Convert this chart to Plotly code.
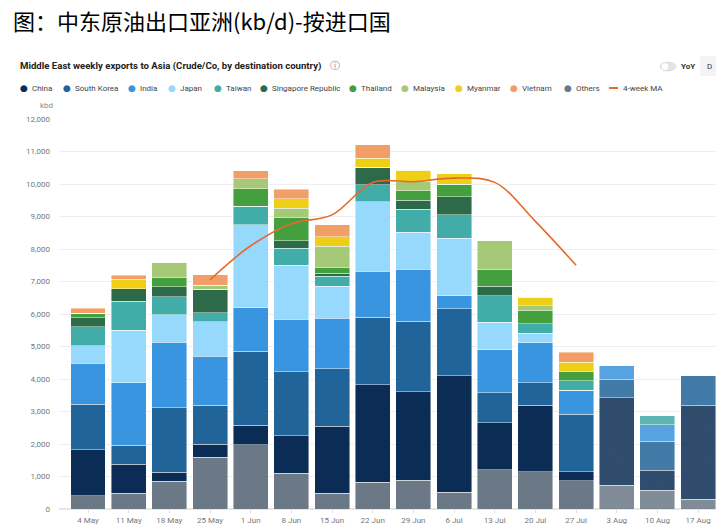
import plotly.graph_objects as go

# week labels (x axis)
weeks = ['4 May', '11 May', '18 May', '25 May', '1 Jun', '8 Jun', '15 Jun', '22 Jun',
         '29 Jun', '6 Jul', '13 Jul', '20 Jul', '27 Jul', '3 Aug', '10 Aug', '17 Aug']

# kbd by destination (stacked bottom -> top)
others    = [410, 490, 850, 1600, 1980, 1100, 490, 820, 890, 520, 1210, 1150, 870, 730, 580, 300]
china     = [1420, 880, 280, 400, 590, 1150, 2050, 3000, 2720, 3580, 1440, 2040, 280, 2700, 610, 2900]
s_korea   = [1400, 590, 1980, 1190, 2290, 1980, 1780, 2080, 2160, 2060, 930, 690, 1760, 570, 890, 900]
india     = [1260, 1920, 2020, 1510, 1340, 1610, 1550, 1420, 1610, 400, 1320, 1230, 750, 420, 510, 0]
japan     = [530, 1620, 850, 1060, 2540, 1660, 980, 2140, 1140, 1770, 840, 300, 0, 0, 0, 0]
taiwan    = [590, 890, 550, 280, 580, 520, 310, 510, 700, 730, 820, 290, 280, 0, 290, 0]
singapore = [280, 390, 310, 720, 0, 230, 100, 540, 280, 550, 290, 0, 0, 0, 0, 0]
thailand  = [130, 0, 280, 0, 540, 720, 180, 0, 290, 390, 510, 400, 290, 0, 0, 0]
malaysia  = [0, 0, 470, 130, 300, 280, 640, 0, 290, 0, 900, 160, 0, 0, 0, 0]
myanmar   = [0, 290, 0, 0, 0, 300, 300, 290, 350, 310, 0, 250, 280, 0, 0, 0]
vietnam   = [160, 130, 0, 320, 250, 290, 370, 410, 0, 0, 0, 0, 310, 0, 0, 0]

# 4-week moving average line
ma_weeks  = ['25 May', '1 Jun', '8 Jun', '15 Jun', '22 Jun', '29 Jun', '6 Jul', '13 Jul', '20 Jul', '27 Jul']
ma_values = [7050, 8100, 8780, 9050, 10050, 10070, 10180, 10050, 8850, 7500]

y_ticks = [0, 1000, 2000, 3000, 4000, 5000, 6000, 7000, 8000, 9000, 10000, 11000, 12000]
partial_weeks = 3   # last weeks drawn faded/hatched

series = [
    ('Others', others, '#6b7987'),
    ('China', china, '#0b2d55'),
    ('South Korea', s_korea, '#21649a'),
    ('India', india, '#3a95e0'),
    ('Japan', japan, '#97d9fc'),
    ('Taiwan', taiwan, '#42aca8'),
    ('Singapore Republic', singapore, '#2d6a4a'),
    ('Thailand', thailand, '#44a03f'),
    ('Malaysia', malaysia, '#a5c977'),
    ('Myanmar', myanmar, '#eecf16'),
    ('Vietnam', vietnam, '#f29f67'),
]
ma_color = '#e8692c'

W, H = 716, 529
PL, PR, PT, PB = 59, 716, 119, 509.3   # plot area in pixels

def px(x):
    return (x - PL) / (PR - PL)

def py(y):
    return (PB - y) / (PB - PT)

n = len(weeks)
opac = [1.0] * (n - partial_weeks) + [0.85] * partial_weeks
shapes_pat = [''] * (n - partial_weeks) + ['x'] * partial_weeks

fig = go.Figure()
for name, vals, col in series:
    fig.add_trace(go.Bar(
        x=weeks, y=vals, name=name,
        marker=dict(color=col, opacity=opac,
                    line=dict(color='rgba(255,255,255,0.55)', width=0.8),
                    pattern=dict(shape=shapes_pat, size=3, solidity=0.12,
                                 fgcolor='rgba(60,60,60,0.5)')),
        showlegend=False,
    ))

fig.add_trace(go.Scatter(x=ma_weeks, y=ma_values, mode='lines', name='4-week MA',
                         line=dict(color=ma_color, width=1.6, shape='spline'),
                         showlegend=False))

annots = []
# chinese header
annots.append(dict(x=px(11), y=py(20), xref='paper', yref='paper', xanchor='left', yanchor='middle',
                   text='图：中东原油出口亚洲(kb/d)-按进口国', showarrow=False,
                   font=dict(family='Noto Sans CJK SC', size=22, color='#000000')))
annots.append(dict(x=px(18), y=py(66), xref='paper', yref='paper', xanchor='left', yanchor='middle',
                   text='<b>Middle East weekly exports to Asia (Crude/Co, by destination country)</b>',
                   showarrow=False, font=dict(family='Roboto', size=9.6, color='#222222')))
annots.append(dict(x=px(335), y=py(65), xref='paper', yref='paper', xanchor='center', yanchor='middle',
                   text='ⓘ', showarrow=False, font=dict(family='DejaVu Sans', size=10, color='#888888')))
annots.append(dict(x=px(679), y=py(66), xref='paper', yref='paper', xanchor='left', yanchor='middle',
                   text='<b>YoY</b>', showarrow=False, font=dict(family='Roboto', size=8, color='#333333')))
annots.append(dict(x=px(709), y=py(66), xref='paper', yref='paper', xanchor='center', yanchor='middle',
                   text='D', showarrow=False, font=dict(family='Roboto', size=8, color='#333333')))
annots.append(dict(x=px(38), y=py(105), xref='paper', yref='paper', xanchor='left', yanchor='middle',
                   text='kbd', showarrow=False, font=dict(family='Roboto', size=8, color='#888888')))

legend_order = ['China', 'South Korea', 'India', 'Japan', 'Taiwan', 'Singapore Republic',
                'Thailand', 'Malaysia', 'Myanmar', 'Vietnam', 'Others']
legend_x = [24, 67, 132, 172, 218, 264, 353, 405, 459, 514, 568]
colors = {s[0]: s[2] for s in series}
for lab, lx in zip(legend_order, legend_x):
    annots.append(dict(x=px(lx), y=py(88), xref='paper', yref='paper', xanchor='center', yanchor='middle',
                       text='●', showarrow=False, font=dict(family='DejaVu Sans', size=9, color=colors[lab])))
    annots.append(dict(x=px(lx + 6), y=py(88), xref='paper', yref='paper', xanchor='left', yanchor='middle',
                       text=lab, showarrow=False, font=dict(family='Roboto', size=8, color='#444444')))
annots.append(dict(x=px(621), y=py(88), xref='paper', yref='paper', xanchor='left', yanchor='middle',
                   text='4-week MA', showarrow=False, font=dict(family='Roboto', size=8, color='#444444')))

shapes = [
    dict(type='line', xref='paper', yref='paper', x0=px(609), x1=px(618), y0=py(88), y1=py(88),
         line=dict(color=ma_color, width=2)),
    # YoY toggle
    dict(type='circle', xref='paper', yref='paper', x0=px(660), x1=px(676), y0=py(62), y1=py(71),
         fillcolor='#e4e4e4', line=dict(color='#d0d0d0', width=0.5)),
    dict(type='circle', xref='paper', yref='paper', x0=px(661), x1=px(669), y0=py(62.5), y1=py(70.5),
         fillcolor='#ffffff', line=dict(color='#d0d0d0', width=0.5)),
    # D button
    dict(type='rect', xref='paper', yref='paper', x0=px(700), x1=px(718), y0=py(56), y1=py(76),
         fillcolor='#f3f3f3', line=dict(width=0), layer='below'),
]

fig.update_layout(
    width=W, height=H,
    margin=dict(l=PL, r=W - PR, t=PT, b=H - PB),
    paper_bgcolor='white', plot_bgcolor='white',
    barmode='stack', bargap=0.14,
    font=dict(family='Roboto', size=8, color='#777777'),
    annotations=annots, shapes=shapes,
    showlegend=False,
)
fig.update_xaxes(type='category', categoryorder='array', categoryarray=weeks,
                 range=[-0.713, 15.44], showgrid=False, showline=False, zeroline=False,
                 ticks='outside', ticklen=3, tickcolor='#dddddd',
                 tickfont=dict(family='Roboto', size=8, color='#777777'), automargin=False)
fig.update_yaxes(range=[0, 12000], tickvals=y_ticks, tickformat=',', showgrid=True,
                 gridcolor='#eeeeee', gridwidth=1, zeroline=True, zerolinecolor='#e6e6e6',
                 showline=False, ticks='', ticklabelstandoff=8,
                 tickfont=dict(family='Roboto', size=8, color='#777777'), automargin=False)

# drop the default page margin so the figure sits at the window's top-left corner
fig.write_html("out.html", config={'displayModeBar': False},
               post_script="document.body.style.margin='0';")
